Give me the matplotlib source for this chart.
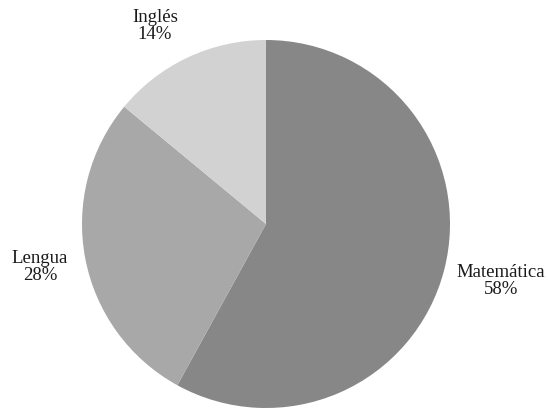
import matplotlib
matplotlib.use("Agg")
import matplotlib.pyplot as plt

categories = ["Matemática", "Lengua", "Inglés"]
values = [58, 28, 14]
colors = ["#878787", "#a8a8a8", "#d2d2d2"]
label_pos = [(501, 281), (40, 267), (155, 26)]

fig = plt.figure(figsize=(5.48, 4.08), dpi=100)
ax = fig.add_axes([0, 0, 1, 1])

ax.pie(values, colors=colors, startangle=90, counterclock=False,
       center=(266, 408 - 224), radius=184, frame=True,
       wedgeprops=dict(linewidth=0))
ax.set_xlim(0, 548)
ax.set_ylim(0, 408)
ax.set_aspect("equal")
ax.axis("off")

for cat, v, (x, y) in zip(categories, values, label_pos):
    ax.text(x, 408 - y, f"{cat}\n{v}%", ha="center", va="center",
            fontsize=13.5, family="Liberation Serif", linespacing=0.95,
            color="#1a1a1a")

fig.savefig("out.png", dpi=100)
